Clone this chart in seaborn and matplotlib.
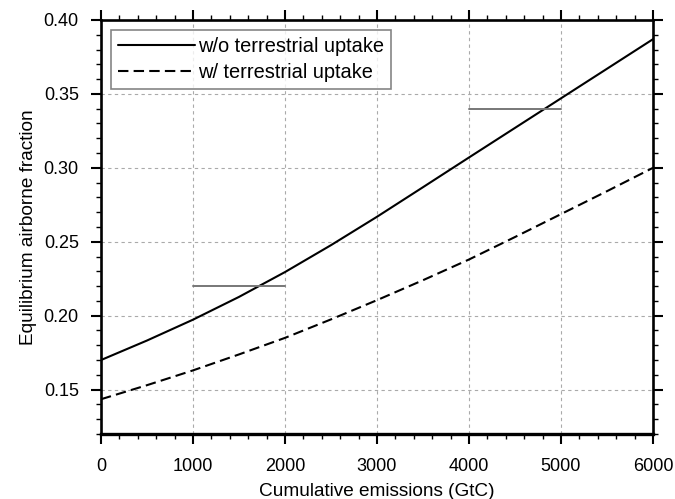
import matplotlib
matplotlib.use("Agg")
import matplotlib.pyplot as plt
from matplotlib.ticker import MultipleLocator, FormatStrFormatter
import seaborn as sns
import pandas as pd

emissions = [0, 500, 1000, 1500, 2000, 2500, 3000, 3500, 4000, 4500, 5000, 5500, 6000]
af_without_terr = [0.170, 0.1832, 0.1973, 0.2127, 0.2295, 0.2477, 0.2669, 0.2869, 0.307, 0.327, 0.347, 0.367, 0.387]
af_with_terr = [0.1435, 0.153, 0.163, 0.1738, 0.185, 0.1975, 0.2105, 0.224, 0.238, 0.2532, 0.2687, 0.2842, 0.300]
series_names = ["w/o terrestrial uptake", "w/ terrestrial uptake"]

ref_x = [[1000, 2000], [4000, 5000]]
ref_y = [0.22, 0.34]

sns.set_style("ticks")
plt.rcParams["font.family"] = ["Liberation Sans", "DejaVu Sans"]
plt.rcParams["text.color"] = "black"
plt.rcParams["axes.labelcolor"] = "black"
plt.rcParams["xtick.color"] = "black"
plt.rcParams["ytick.color"] = "black"

df = pd.DataFrame({
    "x": emissions * 2,
    "y": af_without_terr + af_with_terr,
    "series": [series_names[0]] * len(emissions) + [series_names[1]] * len(emissions),
})

fig = plt.figure(figsize=(6.75, 4.99), dpi=100)
ax = fig.add_axes([0.1496, 0.1303, 0.8178, 0.8297])

sns.lineplot(data=df, x="x", y="y", style="series", color="black",
             dashes={series_names[0]: "", series_names[1]: (5, 2.5)},
             linewidth=1.5, ax=ax, legend=True)

for xs, yv in zip(ref_x, ref_y):
    ax.plot(xs, [yv, yv], color="#777777", linewidth=1.4, zorder=2)

ax.set_xlim(0, 6000)
ax.set_ylim(0.12, 0.40)
ax.xaxis.set_major_locator(MultipleLocator(1000))
ax.xaxis.set_minor_locator(MultipleLocator(200))
ax.yaxis.set_major_locator(MultipleLocator(0.05))
ax.yaxis.set_minor_locator(MultipleLocator(0.01))
ax.yaxis.set_major_formatter(FormatStrFormatter("%.2f"))

ax.grid(True, which="major", color="#aaaaaa", linestyle=(0, (3, 3)), linewidth=0.8)
ax.set_axisbelow(True)

ax.tick_params(which="major", direction="out", length=7, width=1.5,
               top=True, right=True, labelsize=13, pad=9,
               color="black", labelcolor="black")
ax.tick_params(axis="x", which="major", pad=10)
ax.tick_params(which="minor", direction="out", length=3.6, width=1.0,
               top=True, right=True, color="black")
for name, s in ax.spines.items():
    s.set_visible(True)
    s.set_linewidth(2.4 if name == "bottom" else 1.9)
    s.set_color("black")

ax.set_xlabel("Cumulative emissions (GtC)", fontsize=13.7, labelpad=6, color="black")
ax.set_ylabel("Equilibrium airborne fraction", fontsize=13.7, labelpad=5, color="black")

leg = ax.legend(loc="upper left", handlelength=3.85, handletextpad=0.15,
                fontsize=14.4, frameon=True, fancybox=False,
                borderaxespad=0.5, borderpad=0.35, labelspacing=0.35)
leg.get_frame().set_edgecolor("#666666")
leg.get_frame().set_linewidth(1.2)
for t in leg.get_texts():
    t.set_color("black")
leg.set_title(None)

fig.savefig("out.png", dpi=100)
